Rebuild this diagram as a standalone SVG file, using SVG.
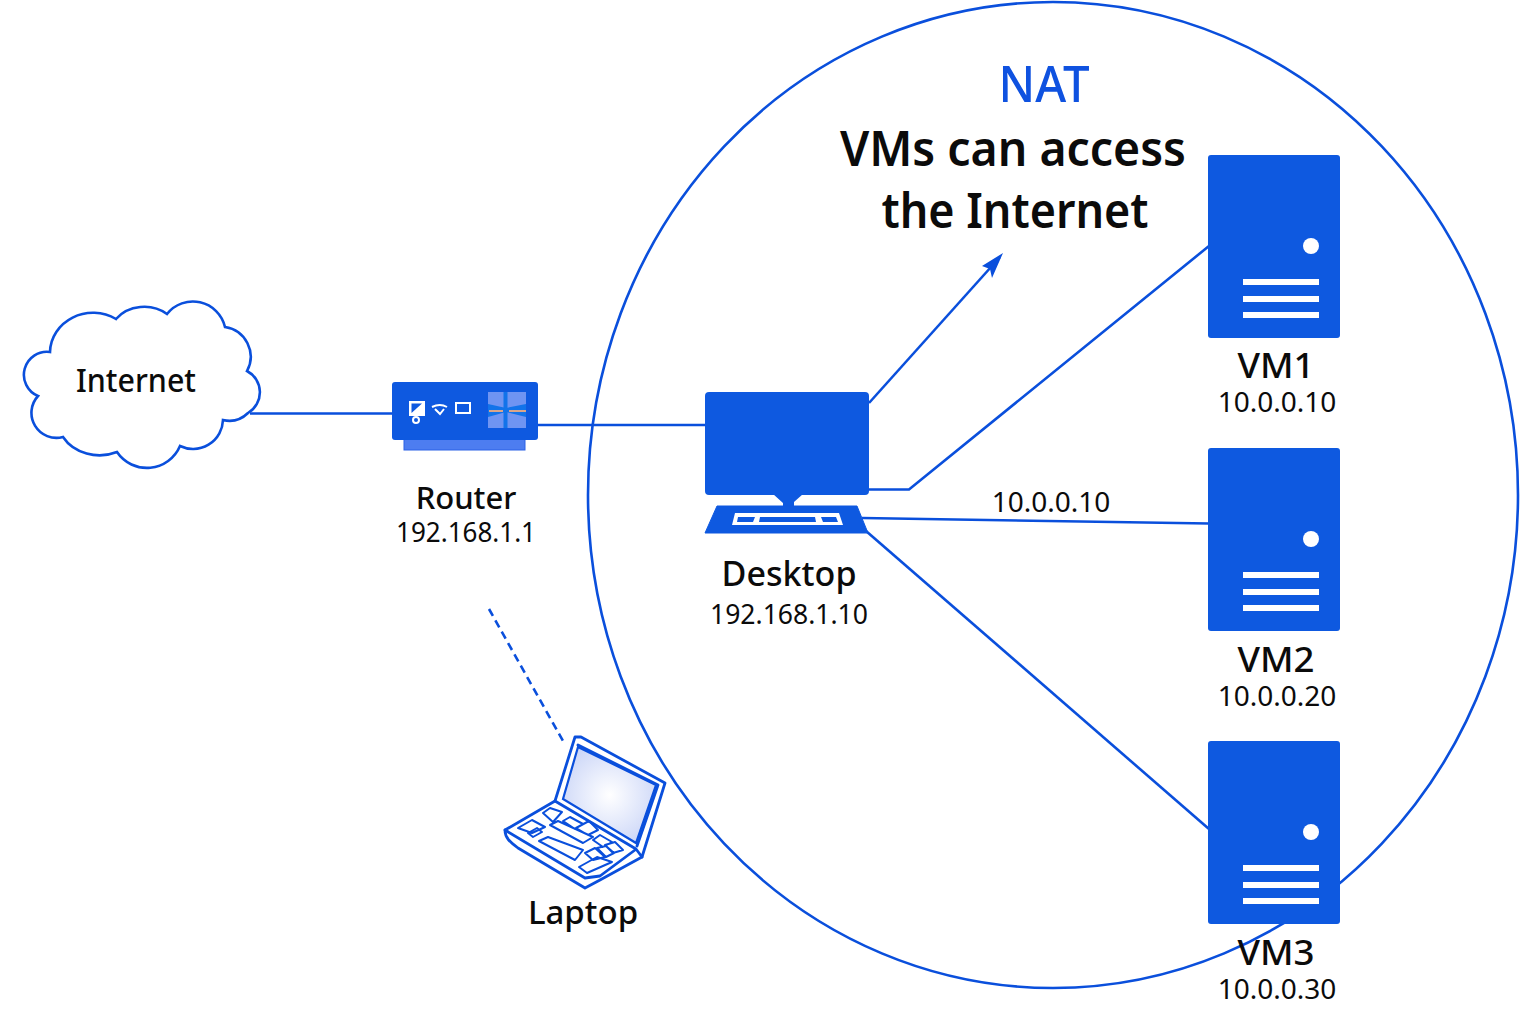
<svg xmlns="http://www.w3.org/2000/svg" width="1536" height="1024" viewBox="0 0 1536 1024">
<defs>
<radialGradient id="scr" cx="0.5" cy="0.5" r="0.6"><stop offset="0" stop-color="#ffffff"/><stop offset="1" stop-color="#c9d4f7"/></radialGradient>
<g id="server">
<rect x="0" y="0" width="132" height="183" rx="3" fill="#0e59e0"/>
<circle cx="103" cy="91" r="8" fill="#fff"/>
<rect x="35" y="124" width="76" height="6" fill="#fff"/>
<rect x="35" y="141" width="76" height="6" fill="#fff"/>
<rect x="35" y="157" width="76" height="6" fill="#fff"/>
</g>
</defs>
<style>
.ln{fill:none;stroke:#0a4fdc;stroke-width:2.6}
.t{font-family:"Noto Sans","Open Sans",sans-serif;fill:#0b0b0b;text-anchor:middle}
.n{font-size:34px;font-weight:500}
.s{font-size:27px}
.o{fill:none;stroke:#0a4fdc;stroke-width:2.8;stroke-linejoin:round;stroke-linecap:round}
.k{fill:none;stroke:#0a4fdc;stroke-width:2;stroke-linejoin:round}
</style>
<rect width="1536" height="1024" fill="#fff"/>
<g id="boundary"><ellipse cx="1053" cy="495" rx="465" ry="493" class="ln"/></g>
<g id="connectors">
<path class="ln" d="M250 413.500H392"/>
<path class="ln" d="M538 425H706"/>
<path class="ln" d="M869 403L1000 257"/>
<path d="M1003 253L982 266L990 269L992 278Z" fill="#0a4fdc"/>
<path class="ln" d="M869 489.500H909L1209 246"/>
<path class="ln" d="M862 518L1209 523.500"/>
<path class="ln" d="M866 531L1209 829"/>
<path class="ln" d="M489 609L563 741" stroke-dasharray="8 5"/>
</g>
<g id="internet">
<path d="M50 352A43 40 0 0 1 116 319A35 30 0 0 1 167 314A33 33 0 0 1 225 327A30 30 0 0 1 247 371A24 24 0 0 1 248 413A27 27 0 0 1 223 420A30 30 0 0 1 180 446A36 36 0 0 1 117 452A42 36 0 0 1 63 437A25 25 0 0 1 38 396A23 23 0 0 1 50 352Z" fill="#fff" stroke="#0a4fdc" stroke-width="2.6"/>
<text class="t" x="136" y="392" font-size="32" style="font-weight:500" textLength="120" lengthAdjust="spacingAndGlyphs">Internet</text>
</g>
<g id="router">
<rect x="404" y="438" width="121" height="12" fill="#4d7df0" stroke="#2c62e6"/>
<rect x="392" y="382" width="146" height="58" rx="3" fill="#0e59e0"/>
<rect x="409" y="401" width="16" height="15" fill="#fff"/>
<path d="M411.500 413V403.500H422Z" fill="#0e59e0"/>
<circle cx="416" cy="420" r="3" fill="#0e59e0" stroke="#fff" stroke-width="2"/>
<path d="M432 407Q440 403 447 407M435 409L440 414L444 409" fill="none" stroke="#fff" stroke-width="2"/>
<rect x="456" y="403" width="14" height="10" fill="none" stroke="#fff" stroke-width="2"/>
<rect x="488" y="392" width="38" height="36" fill="#6f94f2"/>
<path d="M488 404L506 408L526 404V417L506 412L488 417Z" fill="#1273ea"/>
<rect x="503.500" y="392" width="4" height="36" fill="#1273ea"/>
<path d="M489 411H503M509 411H526" stroke="#d9a58a" stroke-width="2"/>
<text class="t" x="466" y="509" style="font-size:31px;font-weight:500">Router</text>
<text class="t s" x="466" y="542" textLength="140" lengthAdjust="spacingAndGlyphs">192.168.1.1</text>
</g>
<g id="desktop">
<rect x="705" y="392" width="164" height="103" rx="4" fill="#0e59e0"/>
<path d="M773 494L783 503V506H794V502L803 494Z" fill="#0e59e0"/>
<path d="M717 506H857L868 533H705Z" fill="#0e59e0" stroke="#0e59e0" stroke-linejoin="round"/>
<path d="M735 513H839L843 525H732Z" fill="#fff"/>
<path d="M738 517H755L753 522H737ZM760 517H815L816 522H759ZM821 517H836L838 522H823Z" fill="#0e59e0"/>
<text class="t" x="789" y="586" style="font-size:35px;font-weight:500" textLength="135" lengthAdjust="spacingAndGlyphs">Desktop</text>
<text class="t s" x="789" y="624" textLength="158" lengthAdjust="spacingAndGlyphs">192.168.1.10</text>
</g>
<g id="laptop">
<path d="M575 737L665 783L642 857L600 880L585 888L507 838L505 830L555 801Z" fill="#fff"/>
<path d="M563 799L578 747L656 785L636 843Z" fill="url(#scr)" stroke="#0a4fdc" stroke-width="2.200"/>
<path class="o" d="M555 801L575 737L581 737L665 783L642 857L636 849L555 801"/>
<path class="o" d="M578 745L658 785L637 846"/>
<path class="o" d="M555 801L505 830C505 838 510 842 518 848L585 888L600 880L642 857"/>
<path class="o" d="M505 830L585 878L600 876L635 850"/>
<path class="k" d="M543 813L550 808L562 812L553 822ZM563 821L570 817L583 824L575 829ZM518 828L532 820L545 827L532 833ZM528 833L537 828L542 832L533 837ZM539 841L548 837L583 850L575 860ZM550 825L558 821L593 837L583 843ZM576 828L589 821L598 830L588 835ZM593 840L600 835L612 842L603 847ZM605 845L615 842L623 850L613 853ZM585 853L595 848L605 857L593 860ZM597 848L606 846L614 853L606 857ZM579 867L597 857L612 862L587 873Z"/>
<text class="t" x="583" y="924" style="font-size:33px;font-weight:500">Laptop</text>
</g>
<g id="vm1"><use href="#server" x="1208" y="155"/>
<text class="t n" x="1276" y="378" textLength="77" lengthAdjust="spacingAndGlyphs">VM1</text><text class="t s" x="1277" y="412" style="font-size:28px">10.0.0.10</text></g>
<g id="vm2"><use href="#server" x="1208" y="448"/>
<text class="t n" x="1276" y="672" textLength="77" lengthAdjust="spacingAndGlyphs">VM2</text><text class="t s" x="1277" y="706" style="font-size:28px">10.0.0.20</text></g>
<g id="vm3"><use href="#server" x="1208" y="741"/>
<text class="t n" x="1276" y="965" textLength="77" lengthAdjust="spacingAndGlyphs">VM3</text><text class="t s" x="1277" y="999" style="font-size:28px">10.0.0.30</text></g>
<g id="labels">
<text class="t" x="1044" y="102" font-size="50" style="fill:#0f52e0;font-weight:500" textLength="91" lengthAdjust="spacingAndGlyphs">NAT</text>
<text class="t" x="1013" y="166" font-size="48" font-weight="600" textLength="346" lengthAdjust="spacingAndGlyphs">VMs can access</text>
<text class="t" x="1015" y="228" font-size="48" font-weight="600" textLength="267" lengthAdjust="spacingAndGlyphs">the Internet</text>
<text class="t s" x="1051" y="512" style="font-size:28px">10.0.0.10</text>
</g>
</svg>
